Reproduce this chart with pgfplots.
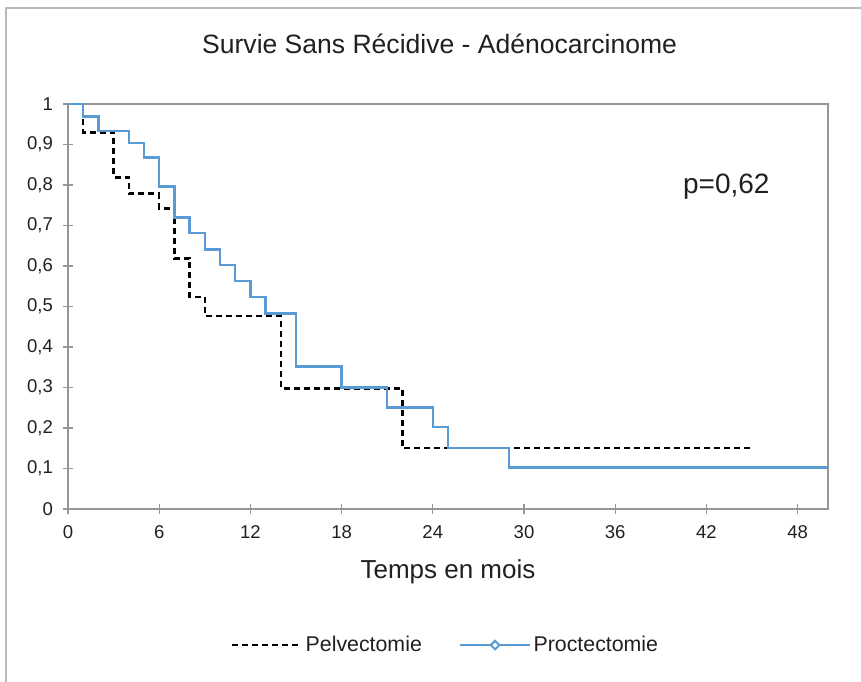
\documentclass[border=0pt]{standalone}
\usepackage{pgfplots}
\pgfplotsset{compat=1.18}
\usepackage{fontspec}
\setmainfont{Liberation Sans}
\definecolor{bluek}{RGB}{91,155,213}
\definecolor{axgray}{RGB}{150,150,150}
\definecolor{framegray}{RGB}{185,185,185}
\definecolor{txt}{RGB}{35,31,32}
\begin{document}
\begin{tikzpicture}
\useasboundingbox (-51pt,-129.75pt) rectangle (594.75pt,381.75pt);
\draw[framegray, line width=1.1pt] (-46.5pt,-129.75pt) -- (-46.5pt,375.75pt) -- (594.75pt,375.75pt);
\begin{axis}[
  at={(0,0)}, anchor=south west,
  scale only axis, width=570pt, height=303.75pt,
  xmin=0, xmax=50, ymin=0, ymax=1,
  xtick={0,6,...,48}, ytick={0,0.1,...,1},
  xtick pos=left, ytick pos=left,
  tick align=center, major tick length=7.5pt,
  axis line style={draw=axgray, line width=1pt},
  tick style={draw=axgray, line width=1pt},
  /pgf/number format/assume math mode=true,
  /pgf/number format/use comma, /pgf/number format/fixed, /pgf/number format/precision=1,
  ticklabel style={font=\fontsize{13.9}{16}\selectfont, text=txt},
  yticklabel style={xshift=-4pt},
  xticklabel style={yshift=-5pt},
  title={Survie Sans Récidive - Adénocarcinome},
  title style={at={(rel axis cs:0.489,1.104)}, anchor=base, font=\fontsize{19.9}{22}\selectfont, text=txt, inner sep=0pt},
  xlabel={Temps en mois},
  xlabel style={at={(rel axis cs:0.5,-0.171)}, anchor=base, font=\fontsize{19.5}{22}\selectfont, text=txt, inner sep=0pt},
  legend columns=2,
  legend style={at={(rel axis cs:0.2145,-0.336)}, anchor=west, draw=none, fill=none, inner sep=0pt,
    font=\fontsize{16}{18}\selectfont, text=txt,
    /tikz/every even column/.append style={column sep=26pt}},
  legend cell align=left,
]
\addplot[const plot, black, dashed, dash pattern=on 4.5pt off 3pt, line width=1.8pt,
  legend image code/.code={\draw[black, line width=1.8pt, dash pattern=on 4.5pt off 3pt] (0pt,0pt) -- (52pt,0pt);}]
coordinates {(0,1)(1,0.930)(3,0.819)(4,0.779)(6,0.742)(7,0.619)(8,0.524)(9,0.4765)(14,0.298)(22,0.151)(45,0.151)};
\addlegendentry{Pelvectomie}
\addplot[const plot, bluek, line width=1.8pt,
  legend image code/.code={\draw[bluek, line width=1.8pt] (0pt,0pt) -- (52pt,0pt);
    \draw[bluek, line width=1.5pt, fill=white] (26pt,3.2pt) -- (29.2pt,0pt) -- (26pt,-3.2pt) -- (22.8pt,0pt) -- cycle;}]
coordinates {(0,1)(1,0.969)(2,0.934)(4,0.903)(5,0.868)(6,0.796)(7,0.720)(8,0.681)(9,0.641)(10,0.602)(11,0.563)(12,0.523)(13,0.483)(15,0.352)(18,0.300)(21,0.251)(24,0.203)(25,0.151)(29,0.102)(50,0.102)};
\addlegendentry{Proctectomie}
\node[anchor=base west, inner sep=0pt, font=\fontsize{21}{24}\selectfont, text=txt] at (rel axis cs:0.809,0.780) {p=0,62};
\end{axis}
\end{tikzpicture}
\end{document}
